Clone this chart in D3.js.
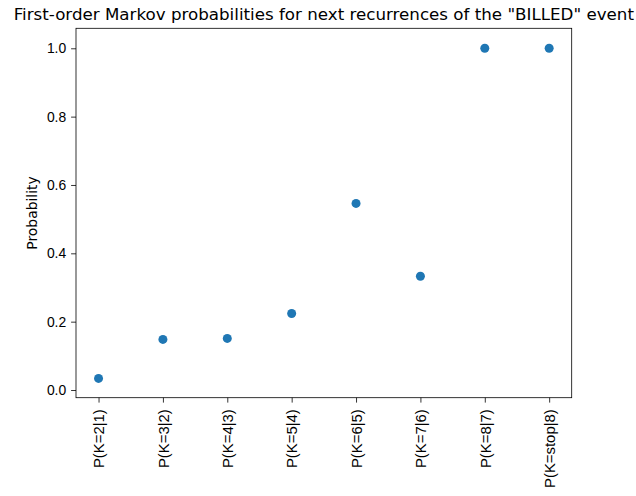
<!doctype html>
<html>
<head>
<style>
  body { margin: 0; background: #fff; }
  #chart { display: block; font-family: "DejaVu Sans", sans-serif; }
  .tick text { font-size: 13.9px; fill: #000; }
</style>
</head>
<body>
<svg id="chart" width="636" height="496"></svg>
<script src="https://d3js.org/d3.v7.min.js"></script>
<script>
var categories = ["P(K=2|1)", "P(K=3|2)", "P(K=4|3)", "P(K=5|4)", "P(K=6|5)", "P(K=7|6)", "P(K=8|7)", "P(K=stop|8)"];
var probabilities = [0.034, 0.148, 0.151, 0.224, 0.546, 0.333, 1.0, 1.0];
var yTicks = [0.0, 0.2, 0.4, 0.6, 0.8, 1.0];

var svg = d3.select("#chart");
var plotLeft = 76, plotRight = 571.7, plotTop = 28.3, plotBottom = 397.7;

var x = d3.scaleLinear()
    .domain([-0.35, categories.length - 1 + 0.35])
    .range([plotLeft, plotRight]);
var y = d3.scaleLinear()
    .domain([-0.0225, 1.0585])
    .range([plotBottom, plotTop]);

// points
svg.append("g").selectAll("circle")
    .data(probabilities)
    .enter().append("circle")
      .attr("cx", function(d, i) { return x(i); })
      .attr("cy", function(d) { return y(d); })
      .attr("r", 4.5)
      .attr("fill", "#1f77b4");

// axes
var xAxis = d3.axisBottom(x)
    .tickValues(d3.range(categories.length))
    .tickFormat(function(i) { return categories[i]; })
    .tickSize(4.9).tickPadding(4.9);
var yAxis = d3.axisLeft(y)
    .tickValues(yTicks)
    .tickFormat(d3.format(".1f"))
    .tickSize(4.9).tickPadding(4.9);

var gx = svg.append("g")
    .attr("transform", "translate(0," + plotBottom + ")")
    .call(xAxis);
gx.select(".domain").remove();
gx.selectAll(".tick line").attr("stroke", "#000").attr("stroke-width", 0.8);
gx.selectAll(".tick text")
    .attr("text-anchor", "end")
    .style("font-size", "14.9px")
    .attr("transform", "translate(0,11.5) rotate(-90)")
    .attr("x", 0).attr("y", 0)
    .attr("dy", "0.35em");

var gy = svg.append("g")
    .attr("transform", "translate(" + plotLeft + ",0)")
    .call(yAxis);
gy.select(".domain").remove();
gy.selectAll(".tick line").attr("stroke", "#000").attr("stroke-width", 0.8);

// frame
svg.append("rect")
    .attr("x", plotLeft).attr("y", plotTop)
    .attr("width", plotRight - plotLeft).attr("height", plotBottom - plotTop)
    .attr("fill", "none").attr("stroke", "#000").attr("stroke-width", 0.8);

// labels
svg.append("text")
    .attr("transform", "translate(37," + ((plotTop + plotBottom) / 2) + ") rotate(-90)")
    .attr("text-anchor", "middle")
    .attr("font-size", "13.9px")
    .text("Probability");

svg.append("text")
    .attr("x", (plotLeft + plotRight) / 2).attr("y", 20)
    .attr("text-anchor", "middle")
    .attr("font-size", "16.7px")
    .text('First-order Markov probabilities for next recurrences of the "BILLED" event');
</script>
</body>
</html>
